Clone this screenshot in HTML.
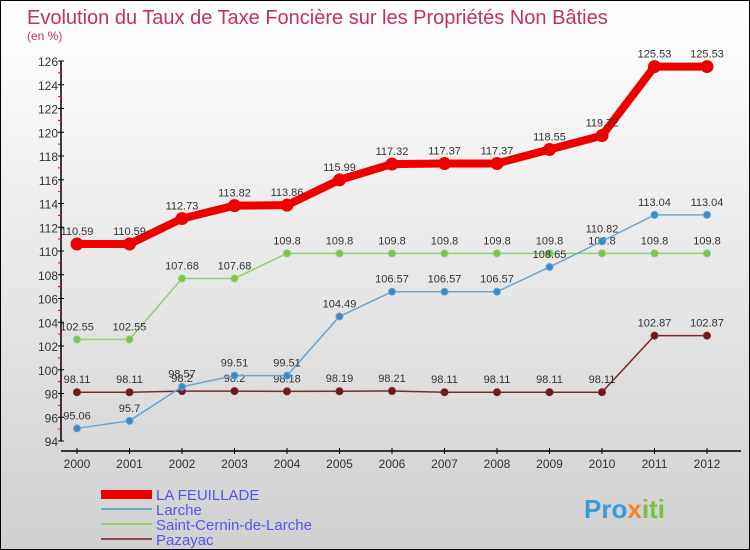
<!DOCTYPE html>
<html><head><meta charset="utf-8"><style>
body{margin:0;}
#c{width:750px;height:550px;position:relative;background:linear-gradient(#fff,#d0d0d0);border:1px solid #000;box-sizing:border-box;overflow:hidden;font-family:"Liberation Sans",sans-serif;}
svg text{font-family:"Liberation Sans",sans-serif;}
</style></head><body>
<div id="c">
<svg id="s" width="750" height="550" xmlns="http://www.w3.org/2000/svg">
<text x="26" y="23" font-size="20" fill="#c0306a">Evolution du Taux de Taxe Foncière sur les Propriétés Non Bâties</text>
<text x="26" y="39" font-size="12" fill="#c0306a">(en %)</text>
<g id="axes"></g><g id="series"></g>
<g>
<rect x="100" y="489" width="51" height="9" fill="#e00"/>
<text x="155" y="499" font-size="15" fill="#5555ee">LA FEUILLADE</text>
<rect x="100" y="507" width="51" height="2" fill="#6aa6d0"/>
<text x="155" y="514" font-size="15" fill="#5555ee">Larche</text>
<rect x="100" y="522" width="51" height="2" fill="#90d070"/>
<text x="155" y="529" font-size="15" fill="#5555ee">Saint-Cernin-de-Larche</text>
<rect x="100" y="537" width="51" height="2" fill="#8a4a4a"/>
<text x="155" y="544" font-size="15" fill="#5555ee">Pazayac</text>
</g>
<text x="583" y="517" font-size="26" font-weight="bold" fill="#3a9ad9">Pro<tspan fill="#f08a20">x</tspan><tspan fill="#7cc040">iti</tspan></text>
</svg>
</div>
<script>
const years=[2000,2001,2002,2003,2004,2005,2006,2007,2008,2009,2010,2011,2012];
const yTicks=[94,96,98,100,102,104,106,108,110,112,114,116,118,120,122,124,126];
const laFeuillade=[110.59,110.59,112.73,113.82,113.86,115.99,117.32,117.37,117.37,118.55,119.72,125.53,125.53];
const larche=[95.06,95.7,98.57,99.51,99.51,104.49,106.57,106.57,106.57,108.65,110.82,113.04,113.04];
const saintCernin=[102.55,102.55,107.68,107.68,109.8,109.8,109.8,109.8,109.8,109.8,109.8,109.8,109.8];
const pazayac=[98.11,98.11,98.2,98.2,98.18,98.19,98.21,98.11,98.11,98.11,98.11,102.87,102.87];
const NS='http://www.w3.org/2000/svg';
const X=i=>76+i*52.5;
const Y=v=>60+(126-v)*(380/32);
function mk(tag,attrs,parent){const e=document.createElementNS(NS,tag);for(const k in attrs)e.setAttribute(k,attrs[k]);parent.appendChild(e);return e;}
const ax=document.getElementById('axes');
let a=mk('line',{x1:60,y1:Y(126),x2:60,y2:Y(94),stroke:'#000','stroke-width':1.5},ax);


a=mk('line',{x1:60,y1:450,x2:740,y2:450,stroke:'#000','stroke-width':1.5},ax);


yTicks.forEach(v=>{
 const t=mk('line',{x1:57,x2:63,y1:Y(v),y2:Y(v),stroke:'#000'},ax);
 
 
 const l=mk('text',{x:57,y:Y(v)+5,'font-size':12,'text-anchor':'end',fill:'#333'},ax);l.textContent=v;
 
 
 if(v<126){const m=mk('line',{x1:57,x2:60,y1:Y(v+1),y2:Y(v+1),stroke:'#e00'},ax);
 
 }
});
years.forEach((yr,i)=>{
 const t=mk('line',{x1:X(i),x2:X(i),y1:447,y2:453,stroke:'#000'},ax);
 
 
 const l=mk('text',{x:X(i),y:467,'font-size':12,'text-anchor':'middle',fill:'#333'},ax);l.textContent=yr;
 
 
});
const sg=document.getElementById('series');
function series(data,name,color,lw,r,dot){
 const g=mk('g',{},sg);
 
 
 const p=mk('polyline',{points:data.map((v,i)=>X(i)+','+Y(v)).join(' '),fill:'none',stroke:color,'stroke-width':lw,'stroke-linejoin':'round'},g);
 
 
 data.forEach((v,i)=>{
  const c=mk('circle',{cx:X(i),cy:Y(v),r:r,fill:dot,stroke:color,'stroke-width':1},g);
  
  
  const t=mk('text',{x:X(i),y:Y(v)-9,'font-size':11,'text-anchor':'middle',fill:'#333'},g);t.textContent=v;
  
  
 });
}
series(pazayac,'pazayac','#7a2a2a',1.5,3.5,'#6a1a1a');
series(saintCernin,'saint-cernin','#90d070',1.5,3.5,'#80c050');
series(larche,'larche','#6aa6d0',1.5,3.5,'#3a8ac8');
series(laFeuillade,'la-feuillade','#e00',8,6,'#e00');
</script>
</body></html>
